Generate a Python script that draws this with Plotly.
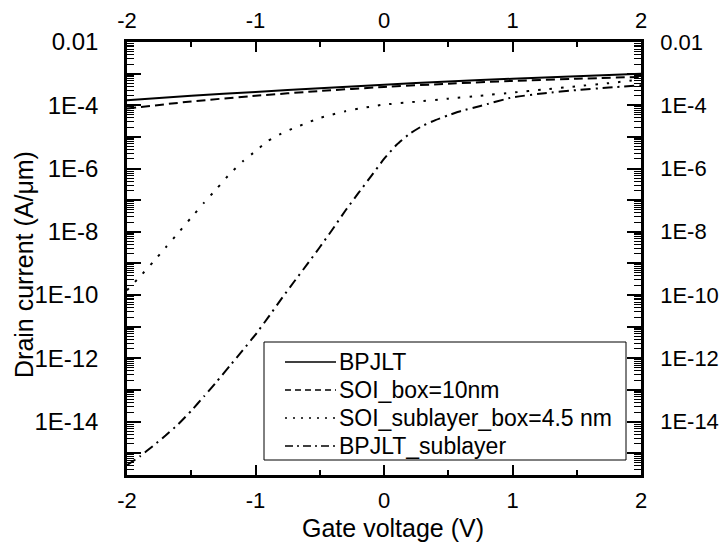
import plotly.graph_objects as go

# ---------------- data ----------------
x_bpjlt = [-2, -1.5, -1, -0.5, 0, 0.5, 1, 1.5, 2]
i_bpjlt = [1.45e-4, 2.0e-4, 2.63e-4, 3.47e-4, 4.47e-4, 5.62e-4, 6.92e-4, 8.32e-4, 1.0e-3]

x_soi = [-2, -1.5, -1, -0.5, 0, 0.5, 1, 1.5, 2]
i_soi = [7.9e-5, 1.32e-4, 2.0e-4, 2.82e-4, 3.8e-4, 4.8e-4, 5.9e-4, 6.9e-4, 7.9e-4]

x_soi_sub = [-2, -1.9, -1.8, -1.7, -1.6, -1.5, -1.4, -1.3, -1.2, -1.1, -1.0,
             -0.9, -0.8, -0.7, -0.6, -0.5, -0.4, -0.3, -0.2, -0.1, 0.0,
             0.25, 0.5, 0.75, 1.0, 1.25, 1.5, 1.75, 2.0]
i_soi_sub = [1.41e-10, 3.8e-10, 1.07e-9, 3.16e-9, 9.3e-9, 2.82e-8, 8.3e-8, 2.34e-7,
             6.8e-7, 1.66e-6, 3.55e-6, 7.6e-6, 1.26e-5, 1.91e-5, 2.75e-5, 3.98e-5,
             5.1e-5, 6.5e-5, 7.8e-5, 9.1e-5, 1.05e-4, 1.29e-4, 1.62e-4, 2.0e-4,
             2.51e-4, 3.16e-4, 3.98e-4, 5.0e-4, 6.5e-4]

x_bpjlt_sub = [-2, -1.9, -1.8, -1.7, -1.6, -1.5, -1.4, -1.3, -1.2, -1.1, -1.0,
               -0.9, -0.8, -0.7, -0.6, -0.5, -0.4, -0.3, -0.2, -0.1, 0.0,
               0.1, 0.2, 0.3, 0.4, 0.5, 0.6, 0.75, 1.0, 1.25, 1.5, 1.75, 2.0]
i_bpjlt_sub = [4.2e-16, 7.9e-16, 1.66e-15, 3.6e-15, 8.3e-15, 2.19e-14, 6.3e-14,
               1.86e-13, 5.75e-13, 1.78e-12, 5.6e-12, 2.0e-11, 7.4e-11, 2.63e-10,
               9.1e-10, 3.24e-9, 1.2e-8, 4.7e-8, 1.66e-7, 5.75e-7, 2.0e-6, 5.75e-6,
               1.26e-5, 2.24e-5, 3.4e-5, 4.8e-5, 6.6e-5, 9.5e-5, 1.78e-4, 2.4e-4,
               3.02e-4, 3.63e-4, 4.27e-4]

names = ["BPJLT", "SOI_box=10nm", "SOI_sublayer_box=4.5 nm", "BPJLT_sublayer"]
x_title = "Gate voltage (V)"
y_title = "Drain current (A/μm)"

x_ticks = [-2, -1, 0, 1, 2]
x_minor = [-1.5, -0.5, 0.5, 1.5]
y_major = [1e-15, 1e-14, 1e-13, 1e-12, 1e-11, 1e-10, 1e-9, 1e-8, 1e-7,
           1e-6, 1e-5, 1e-4, 1e-3, 1e-2]
y_text = ["", "1E-14", "", "1E-12", "", "1E-10", "", "1E-8", "",
          "1E-6", "", "1E-4", "", "0.01"]
y_range_log = [-15.69, -2]
x_range = [-2, 2]

# minor log ticks 2..9 x 10^n
y_minor = []
for e in range(-16, -2):
    for k in range(2, 10):
        v = k * 10.0 ** e
        if v > 10 ** y_range_log[0]:
            y_minor.append(v)

FONT = "Liberation Sans, Arial, sans-serif"
XFS = 22      # x tick labels
YLFS = 24     # left y tick labels
YRFS = 22     # right y tick labels
TFS = 25      # axis titles
LFS = 23      # legend

curve_dash = ["solid", "9px,5px", "2.5px,9px", "10px,5px,2px,5px"]
legend_dash = ["solid", "6px,4px", "2px,6px", "8px,4px,2px,4px"]
series = [(x_bpjlt, i_bpjlt), (x_soi, i_soi), (x_soi_sub, i_soi_sub),
          (x_bpjlt_sub, i_bpjlt_sub)]

fig = go.Figure()
for name, dash, (xs, ys) in zip(names, curve_dash, series):
    fig.add_trace(go.Scatter(x=xs, y=ys, mode="lines", name=name, showlegend=False,
                             line=dict(color="black", width=2, dash=dash,
                                       shape="spline", smoothing=0.4)))

# dummy trace to carry the mirrored top/right axes
fig.add_trace(go.Scatter(x=[None], y=[None], xaxis="x2", yaxis="y2",
                         showlegend=False, hoverinfo="skip"))

xcommon = dict(range=x_range, tickmode="array", tickvals=x_ticks,
               ticktext=[str(v) for v in x_ticks], automargin=False,
               ticks="inside", ticklen=10, tickwidth=2, tickcolor="black",
               showline=True, linecolor="black", linewidth=2.5,
               showgrid=False, zeroline=False,
               tickfont=dict(family=FONT, size=XFS, color="black"),
               minor=dict(tickvals=x_minor, ticks="inside", ticklen=5, tickwidth=2,
                          tickcolor="black", showgrid=False))
ycommon = dict(type="log", range=y_range_log, tickmode="array", tickvals=y_major,
               ticktext=y_text, automargin=False, ticks="inside", ticklen=14,
               tickwidth=2, tickcolor="black", showline=True, linecolor="black",
               linewidth=2.5, showgrid=False, zeroline=False,
               minor=dict(tickvals=y_minor, ticks="inside", ticklen=7, tickwidth=1,
                          tickcolor="black", showgrid=False))

# page body adds an 8px offset, so the figure is 8px smaller and margins shifted
OFF = 8
W, H = 728 - OFF, 550 - OFF
# plot frame in reference (window) pixels
L, R, T, B = 127, 641, 42, 475


def px(xp):
    return (xp - L) / (R - L)


def py(yp):
    return (B - yp) / (B - T)


shapes = [dict(type="rect", xref="paper", yref="paper",
               x0=px(264), x1=px(626), y0=py(460), y1=py(342),
               line=dict(color="black", width=1), fillcolor="white", layer="above")]
annotations = []
row_y = [362, 390, 418, 446]
for name, dash, ry in zip(names, legend_dash, row_y):
    shapes.append(dict(type="line", xref="paper", yref="paper",
                       x0=px(285), x1=px(336), y0=py(ry), y1=py(ry),
                       line=dict(color="black", width=1.5, dash=dash), layer="above"))
    annotations.append(dict(xref="paper", yref="paper", x=px(337), y=py(ry),
                            xanchor="left", yanchor="middle", showarrow=False,
                            text=name, font=dict(family=FONT, size=LFS, color="black")))

# axis titles
annotations.append(dict(xref="paper", yref="paper", x=px(393), y=py(528),
                        xanchor="center", yanchor="middle", showarrow=False,
                        text=x_title, font=dict(family=FONT, size=TFS, color="black")))
annotations.append(dict(xref="paper", yref="paper", x=px(24), y=py(265),
                        xanchor="center", yanchor="middle", showarrow=False,
                        textangle=-90,
                        text=y_title, font=dict(family=FONT, size=TFS, color="black")))

fig.update_layout(
    width=W, height=H,
    margin=dict(l=L - OFF, r=W - (R - OFF), t=T - OFF, b=H - (B - OFF)),
    plot_bgcolor="white", paper_bgcolor="white",
    font=dict(family=FONT, size=XFS, color="black"),
    xaxis=dict(**xcommon, ticklabelstandoff=4),
    xaxis2=dict(**xcommon, overlaying="x", side="top", anchor="y", ticklabelstandoff=2),
    yaxis=dict(**ycommon, ticklabelstandoff=21,
               tickfont=dict(family=FONT, size=YLFS, color="black")),
    yaxis2=dict(**ycommon, overlaying="y", side="right", anchor="x", ticklabelstandoff=12,
                tickfont=dict(family=FONT, size=YRFS, color="black")),
    showlegend=False,
    shapes=shapes,
    annotations=annotations,
)

fig.write_html("out.html")
